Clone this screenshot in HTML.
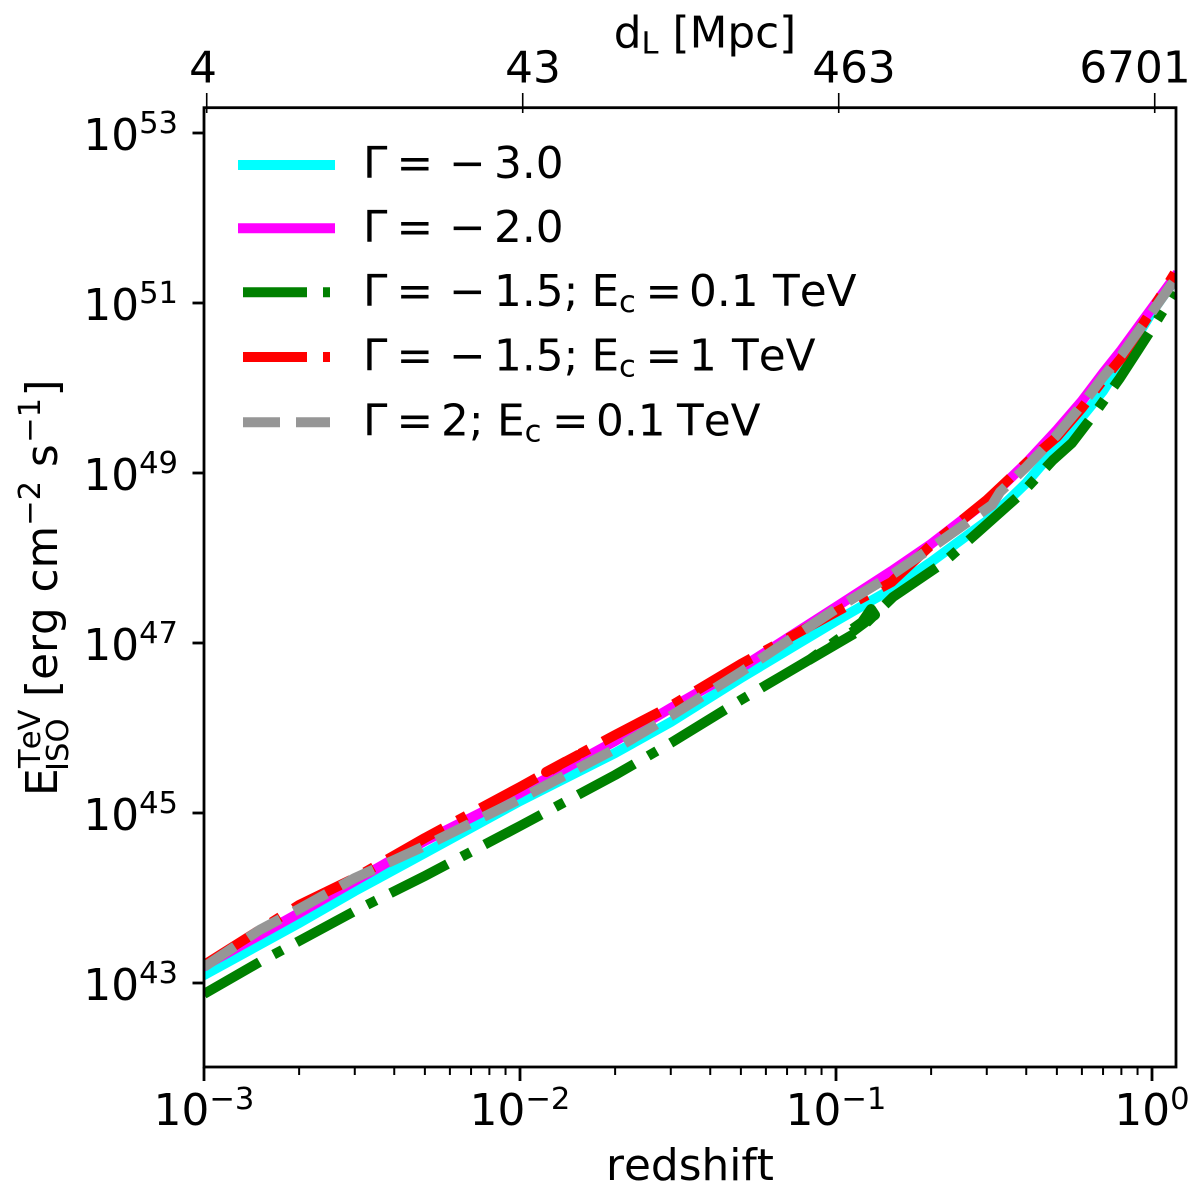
<!DOCTYPE html>
<html lang="en">
<head>
<meta charset="utf-8">
<title>Isotropic TeV energy versus redshift</title>
<style>
html,body{margin:0;padding:0;background:#fff;}
svg{display:block;}
text{font-family:"DejaVu Sans","Liberation Sans",sans-serif;fill:#000;font-size:43.75px;font-kerning:none;}
</style>
</head>
<body>
<svg id="chart" xmlns="http://www.w3.org/2000/svg" width="1200" height="1200" viewBox="0 0 1200 1200">
  <rect x="0" y="0" width="1200" height="1200" fill="#ffffff"/>
  <defs>
    <clipPath id="plot-clip"><rect x="204" y="108" width="972" height="959"/></clipPath>
  </defs>
  <g id="series-layer" clip-path="url(#plot-clip)"></g>
  <g id="tick-layer"></g>
  <rect x="204" y="107.7" width="972" height="959.3" fill="none" stroke="#000" stroke-width="2.8"/>

  <text x="203" y="82.7" text-anchor="middle">4</text>
  <text x="533" y="82.7" text-anchor="middle">43</text>
  <text x="854" y="82.7" text-anchor="middle">463</text>
  <text x="1135" y="82.7" text-anchor="middle">6701</text>
  <text x="705" y="47.5" text-anchor="middle">d<tspan style="font-size:30.6px" dy="6">L</tspan><tspan dy="-6"> [Mpc]</tspan></text>
  <text x="690" y="1180" text-anchor="middle">redshift</text>

  <g transform="translate(57 792) rotate(-90)">
    <text x="-4" y="0">E</text>
    <text x="24" y="-17" style="font-size:30.6px">TeV</text>
    <text x="21" y="11" style="font-size:30.6px">ISO</text>
    <text x="95" y="0">[erg</text>
    <text x="199.5" y="0">cm</text>
    <text x="266" y="-17" style="font-size:30.6px">−2</text>
    <text x="325" y="0">s</text>
    <text x="349" y="-17" style="font-size:30.6px">−1</text>
    <text x="395.5" y="0">]</text>
  </g>

  <g id="legend">
    <g>
      <line x1="238" x2="335" y1="165" y2="165" stroke="#00ffff" stroke-width="10"/>
      <text y="178"><tspan x="363">Γ</tspan><tspan x="396.5">=</tspan><tspan x="449">−</tspan><tspan x="494">3.0</tspan></text>
    </g>
    <g>
      <line x1="238" x2="335" y1="228.3" y2="228.3" stroke="#ff00ff" stroke-width="10"/>
      <text y="242"><tspan x="363">Γ</tspan><tspan x="396.5">=</tspan><tspan x="449">−</tspan><tspan x="494">2.0</tspan></text>
    </g>
    <g>
      <line x1="243" x2="330" y1="292.3" y2="292.3" stroke="#008000" stroke-width="10" stroke-dasharray="64 16 10 16"/>
      <text y="306"><tspan x="363">Γ</tspan><tspan x="396.5">=</tspan><tspan x="449">−</tspan><tspan x="494">1.5;</tspan><tspan x="591.5">E</tspan><tspan x="619" dy="6" style="font-size:30.6px">c</tspan><tspan x="645.5" dy="-6">=</tspan><tspan x="689">0.1</tspan><tspan x="773">TeV</tspan></text>
    </g>
    <g>
      <line x1="243" x2="330" y1="357" y2="357" stroke="#ff0000" stroke-width="10" stroke-dasharray="64 16 10 16"/>
      <text y="370.7"><tspan x="363">Γ</tspan><tspan x="396.5">=</tspan><tspan x="449">−</tspan><tspan x="494">1.5;</tspan><tspan x="591.5">E</tspan><tspan x="619" dy="6" style="font-size:30.6px">c</tspan><tspan x="645.5" dy="-6">=</tspan><tspan x="689">1</tspan><tspan x="732">TeV</tspan></text>
    </g>
    <g>
      <line x1="243" x2="330" y1="422.3" y2="422.3" stroke="#969696" stroke-width="10" stroke-dasharray="37 16"/>
      <text y="435.7"><tspan x="363">Γ</tspan><tspan x="396.5">=</tspan><tspan x="441">2;</tspan><tspan x="497">E</tspan><tspan x="524.6" dy="6" style="font-size:30.6px">c</tspan><tspan x="552" dy="-6">=</tspan><tspan x="596">0.1</tspan><tspan x="677">TeV</tspan></text>
    </g>
  </g>
</svg>
<script>
// ---- tick data ----
var xMajorExponents = [-3, -2, -1, 0];
var xMinorMultipliers = [2, 3, 4, 5, 6, 7, 8, 9];
var yTickExponents = [53, 51, 49, 47, 45, 43];
var topTickRedshifts = [0.00102, 0.0102, 0.102, 1.02];

// ---- series data: redshift and log10(E_ISO) ----
var zCommon = [0.001, 0.002, 0.003, 0.005, 0.01, 0.02, 0.03, 0.05, 0.1, 0.15, 0.2, 0.3, 0.4, 0.5, 0.6, 0.7, 0.8, 1.0, 1.18];
var zRed = [0.001, 0.0015, 0.002, 0.003, 0.005, 0.01, 0.01526, 0.01209, 0.02, 0.03, 0.05, 0.1, 0.15, 0.2, 0.3, 0.4, 0.5, 0.6, 0.7, 0.8, 1.0, 1.18];
var zGray = [0.001, 0.0015, 0.002, 0.003, 0.005, 0.01, 0.02, 0.03, 0.05, 0.1, 0.15, 0.2, 0.3117, 0.3304, 0.4, 0.5, 0.6, 0.7, 0.8, 1.0, 1.18];
var zGreen = [0.001, 0.0015, 0.002, 0.003, 0.005, 0.01, 0.02, 0.03, 0.05, 0.0665, 0.1, 0.1329, 0.1291, 0.1209, 0.0822, 0.1165, 0.1515, 0.2182, 0.2794, 0.3906, 0.4862, 0.5583, 0.66, 0.792, 1.0074, 1.18];

var logCyan = [43.094, 43.706, 44.082, 44.529, 45.141, 45.706, 46.071, 46.588, 47.259, 47.635, 47.953, 48.435, 48.882, 49.306, 49.659, 49.965, 50.306, 50.894, 51.271];
var logMagenta = [43.2, 43.824, 44.2, 44.671, 45.235, 45.847, 46.235, 46.706, 47.424, 47.847, 48.165, 48.671, 49.118, 49.506, 49.847, 50.176, 50.447, 50.941, 51.306];
var logGreen = [42.871, 43.247, 43.494, 43.847, 44.259, 44.847, 45.447, 45.824, 46.329, 46.6, 46.988, 47.329, 47.4, 47.247, 46.8, 47.129, 47.541, 47.941, 48.294, 48.776, 49.153, 49.353, 49.706, 50.118, 50.718, 51.129];
var logRed = [43.212, 43.624, 43.918, 44.235, 44.706, 45.306, 45.682, 45.482, 45.918, 46.259, 46.753, 47.365, 47.718, 48.153, 48.682, 49.118, 49.424, 49.765, 50.094, 50.353, 50.918, 51.35];
var logGray = [43.188, 43.624, 43.871, 44.235, 44.612, 45.165, 45.753, 46.141, 46.659, 47.4, 47.8, 48.118, 48.624, 48.776, 49.071, 49.447, 49.8, 50.129, 50.388, 50.894, 51.271];

var NS = 'http://www.w3.org/2000/svg';
function xScale(z) { return 204 + 316 * (Math.log10(z) + 3); }
function yScale(logE) { return 983 - 85 * (logE - 43); }

function makeLine(x1, y1, x2, y2, width) {
  var l = document.createElementNS(NS, 'line');
  l.setAttribute('x1', x1);
  l.setAttribute('y1', y1);
  l.setAttribute('x2', x2);
  l.setAttribute('y2', y2);
  l.setAttribute('stroke', '#000');
  l.setAttribute('stroke-width', width);
  return l;
}

function drawSeries(name, zs, logs, color, dash, cap) {
  var p = document.createElementNS(NS, 'polyline');
  
  
  var pts = [];
  for (var i = 0; i < zs.length; i++) {
    pts.push(xScale(zs[i]).toFixed(2) + ',' + yScale(logs[i]).toFixed(2));
  }
  p.setAttribute('points', pts.join(' '));
  p.setAttribute('fill', 'none');
  p.setAttribute('stroke', color);
  p.setAttribute('stroke-width', '10');
  p.setAttribute('stroke-linejoin', 'round');
  p.setAttribute('stroke-linecap', cap);
  if (dash) { p.setAttribute('stroke-dasharray', dash); }
  document.getElementById('series-layer').appendChild(p);
}

drawSeries('series-gamma-3', zCommon, logCyan, '#00ffff', '', 'square');
drawSeries('series-gamma-2', zCommon, logMagenta, '#ff00ff', '', 'square');
drawSeries('series-gamma-1p5-ec-0p1', zGreen, logGreen, '#008000', '64 16 10 16', 'butt');
drawSeries('series-gamma-1p5-ec-1', zRed, logRed, '#ff0000', '64 16 10 16', 'butt');
drawSeries('series-gamma-2-ec-0p1', zGray, logGray, '#969696', '37 16', 'butt');

var ticks = document.getElementById('tick-layer');

xMajorExponents.forEach(function (e) {
  var x = xScale(Math.pow(10, e));
  var t = makeLine(x, 1067, x, 1081, 2.8);
  
  
  ticks.appendChild(t);

  var label = document.createElementNS(NS, 'text');
  
  
  label.setAttribute('x', x);
  label.setAttribute('y', 1125);
  label.setAttribute('text-anchor', 'middle');
  var base = document.createElementNS(NS, 'tspan');
  base.textContent = '10';
  label.appendChild(base);
  var sup = document.createElementNS(NS, 'tspan');
  sup.setAttribute('dy', '-16');
  sup.setAttribute('style', 'font-size:30.6px');
  sup.textContent = String(e).replace('-', '\u2212');
  label.appendChild(sup);
  ticks.appendChild(label);

  if (e < 0) {
    xMinorMultipliers.forEach(function (m) {
      var mx = xScale(m * Math.pow(10, e));
      var mt = makeLine(mx, 1067, mx, 1075, 2);
      
      
      ticks.appendChild(mt);
    });
  }
});

yTickExponents.forEach(function (e) {
  var y = yScale(e);
  var t = makeLine(192.5, y, 204, y, 2.8);
  
  
  ticks.appendChild(t);

  var label = document.createElementNS(NS, 'text');
  
  
  label.setAttribute('x', 178);
  label.setAttribute('y', y + 17);
  label.setAttribute('text-anchor', 'end');
  var base = document.createElementNS(NS, 'tspan');
  base.textContent = '10';
  label.appendChild(base);
  var sup = document.createElementNS(NS, 'tspan');
  sup.setAttribute('dy', '-17');
  sup.setAttribute('style', 'font-size:30.6px');
  sup.textContent = String(e);
  label.appendChild(sup);
  ticks.appendChild(label);
});

topTickRedshifts.forEach(function (z) {
  var x = xScale(z);
  var t = makeLine(x, 93, x, 113, 1.6);
  
  
  ticks.appendChild(t);
});
</script>
</body>
</html>
